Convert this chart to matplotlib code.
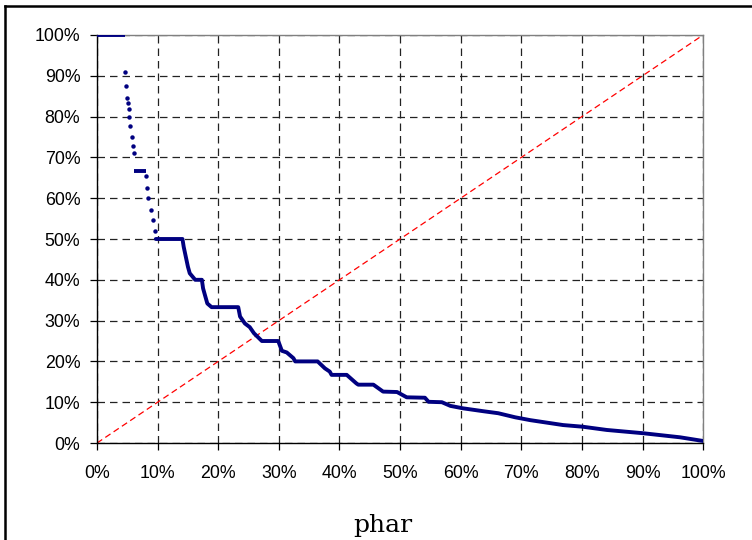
import matplotlib
matplotlib.use("Agg")
import matplotlib.pyplot as plt
from matplotlib.lines import Line2D
from matplotlib.ticker import PercentFormatter, MultipleLocator

# flat runs at the top of the curve (x start, x end, level), in percent
plateau_start = [0.0, 6.1]
plateau_end = [4.7, 8.1]
plateau_level = [100.0, 66.7]

# single scattered points in the steep upper part, in percent
dots_x = [4.67, 4.74, 4.9, 5.07, 5.23, 5.28, 5.45, 5.73, 5.94, 6.1,
          8.1, 8.2, 8.4, 8.9, 9.3, 9.6]
dots_y = [90.9, 87.4, 84.6, 83.3, 81.9, 80.0, 77.8, 75.0, 72.9, 71.0,
          65.5, 62.4, 60.0, 57.1, 54.7, 52.0]

# dense part of the curve, in percent
curve_x = [9.7, 14.1, 14.3, 14.7, 15.0, 15.3, 16.2, 17.3, 17.5, 17.8, 18.2,
           18.9, 23.3, 23.6, 24.4, 25.2, 25.9, 27.2, 29.9, 30.5, 31.3, 32.4,
           32.7, 36.4, 37.6, 38.4, 38.7, 41.2, 42.8, 43.1, 45.6, 47.2, 49.5,
           51.1, 54.1, 54.7, 56.9, 58.3, 60.4, 63.7, 66.2, 69.0, 71.5, 76.9,
           80.1, 84.1, 90.1, 96.2, 100.0]
curve_y = [50.0, 50.0, 48.1, 45.3, 43.2, 41.6, 40.0, 40.0, 37.9, 36.3, 34.2,
           33.3, 33.3, 31.0, 29.3, 28.4, 26.9, 25.0, 25.0, 22.6, 22.2, 20.8,
           20.0, 20.0, 18.3, 17.5, 16.7, 16.7, 14.6, 14.3, 14.3, 12.6, 12.5,
           11.2, 11.1, 10.1, 10.0, 9.1, 8.5, 7.8, 7.3, 6.3, 5.6, 4.4,
           4.0, 3.2, 2.4, 1.4, 0.5]

diag = [0, 100]

navy = '#000080'

fig = plt.figure(figsize=(7.52, 5.4), dpi=100)
ax = fig.add_axes([0.129, 0.1796, 0.806, 0.7556])

ax.plot(diag, diag, color='red', lw=0.9, linestyle=(0, (5, 3)), zorder=2)
ax.hlines(plateau_level, plateau_start, plateau_end, color=navy, lw=2.8, zorder=3)
ax.plot(dots_x, dots_y, 'o', color=navy, ms=3.2, mew=0, zorder=3)
ax.plot(curve_x, curve_y, color=navy, lw=2.8, solid_capstyle='round',
        solid_joinstyle='round', zorder=3)

ax.set_xlim(0, 100)
ax.set_ylim(0, 100)
ax.xaxis.set_major_locator(MultipleLocator(10))
ax.yaxis.set_major_locator(MultipleLocator(10))
ax.xaxis.set_major_formatter(PercentFormatter(100, decimals=0))
ax.yaxis.set_major_formatter(PercentFormatter(100, decimals=0))

ax.grid(True, color='#222222', linestyle=(0, (6, 4)), lw=0.9)
ax.set_axisbelow(True)
ax.tick_params(direction='out', length=5, width=0.9, colors='black',
               labelsize=12.8)
ax.tick_params(axis='x', pad=11)
ax.tick_params(axis='y', pad=7)
for lab in ax.get_xticklabels() + ax.get_yticklabels():
    lab.set_fontfamily('Liberation Sans')

ax.spines['left'].set_color('black')
ax.spines['bottom'].set_color('black')
ax.spines['top'].set_color('#808080')
ax.spines['right'].set_color('#808080')
for s in ax.spines.values():
    s.set_linewidth(1.0)

fig.text(0.509, 0.0148, 'phar', ha='center', va='baseline',
         fontsize=18, family='DejaVu Serif')

# outer frame (top and left edges only show in the crop)
fig.add_artist(Line2D([5 / 752, 1], [1 - 6 / 540, 1 - 6 / 540],
                      color='black', lw=1.8, transform=fig.transFigure))
fig.add_artist(Line2D([5 / 752, 5 / 752], [0, 1 - 6 / 540],
                      color='black', lw=1.8, transform=fig.transFigure))

fig.savefig('out.png', dpi=100)
